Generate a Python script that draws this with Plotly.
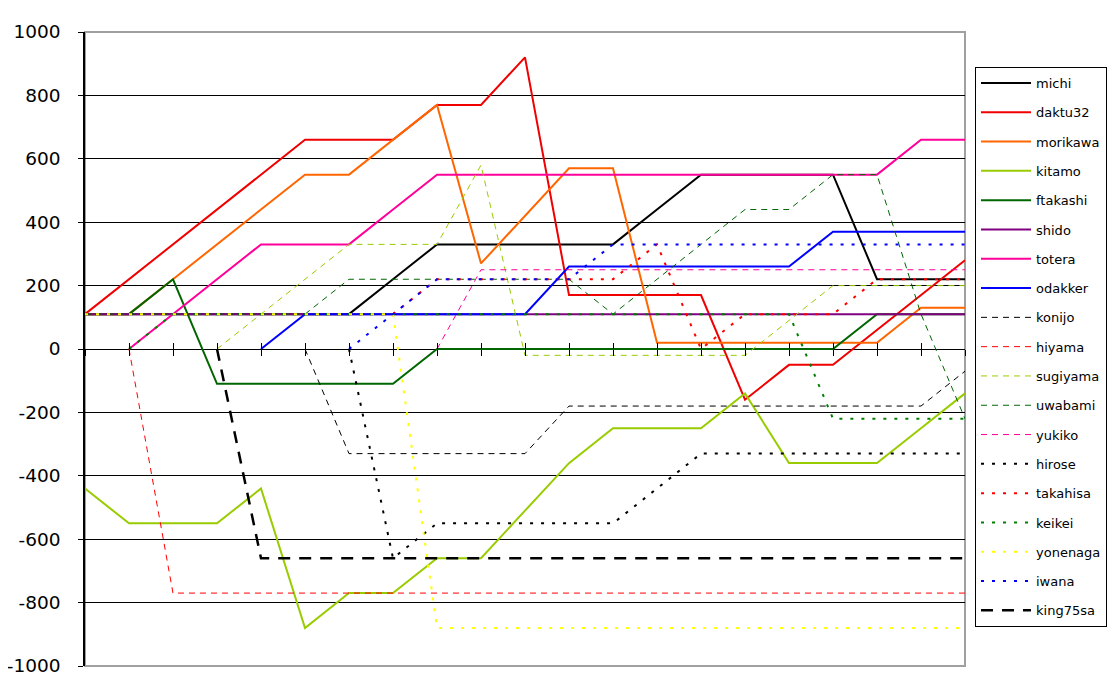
import plotly.graph_objects as go

# ---- data ----
categories = list(range(21))

michi    = [110,110,110,110,110,110,110,220,330,330,330,330,330,440,550,550,550,550,220,220,220]
daktu32  = [110,220,330,440,550,660,660,660,770,770,920,170,170,170,170,-160,-50,-50,60,170,280]
morikawa = [110,110,220,330,440,550,550,660,770,270,420,570,570,20,20,20,20,20,20,130,130]
kitamo   = [-440,-550,-550,-550,-440,-880,-770,-770,-660,-660,-510,-360,-250,-250,-250,-140,-360,-360,-360,-250,-140]
ftakashi = [110,110,220,-110,-110,-110,-110,-110,0,0,0,0,0,0,0,0,0,0,110,110,110]
shido    = [110,110,110,110,110,110,110,110,110,110,110,110,110,110,110,110,110,110,110,110,110]
totera   = [None,0,110,220,330,330,330,440,550,550,550,550,550,550,550,550,550,550,550,660,660]
odakker  = [None,None,None,None,0,110,110,110,110,110,110,260,260,260,260,260,260,370,370,370,370]
konijo   = [None,None,None,None,None,0,-330,-330,-330,-330,-330,-180,-180,-180,-180,-180,-180,-180,-180,-180,-70]
hiyama   = [None,0,-770,-770,-770,-770,-770,-770,-770,-770,-770,-770,-770,-770,-770,-770,-770,-770,-770,-770,-770]
sugiyama = [None,None,None,0,110,220,330,330,330,580,-20,-20,-20,-20,-20,-20,90,200,200,200,200]
uwabami  = [110,110,110,110,110,110,220,220,220,220,220,220,110,220,330,440,440,550,550,110,-220]
yukiko   = [None,None,None,None,None,None,None,None,0,250,250,250,250,250,250,250,250,250,250,250,250]
hirose   = [None,None,None,None,None,None,0,-660,-550,-550,-550,-550,-550,-440,-330,-330,-330,-330,-330,-330,-330]
takahisa = [None,None,None,None,None,None,None,110,220,220,220,220,220,330,0,110,110,110,220,220,220]
keikei   = [None,0,110,110,110,110,110,110,110,110,110,110,110,110,110,110,110,-220,-220,-220,-220]
yonenaga = [110,110,110,110,110,110,110,110,-880,-880,-880,-880,-880,-880,-880,-880,-880,-880,-880,-880,-880]
iwana    = [None,None,None,None,None,None,0,110,220,220,220,220,330,330,330,330,330,330,330,330,330]
king75sa = [None,None,None,0,-660,-660,-660,-660,-660,-660,-660,-660,-660,-660,-660,-660,-660,-660,-660,-660,-660]

y_tick_vals = [1000, 800, 600, 400, 200, 0, -200, -400, -600, -800, -1000]
y_tick_text = ["1000", "800", "600", "400", "200", "0", "-200", "-400", "-600", "-800", "-1000"]

# ---- styles ----
SOLID = dict(width=2, dash="solid")
THIN_DASH = dict(width=1, dash="6px,5px")
DOT = dict(width=2, dash="3px,8px")
LONG_DASH = dict(width=2.5, dash="12px,9px")

series = [
    ("michi", michi, "#000000", SOLID),
    ("daktu32", daktu32, "#F00000", SOLID),
    ("morikawa", morikawa, "#FF6600", SOLID),
    ("kitamo", kitamo, "#99CC00", SOLID),
    ("ftakashi", ftakashi, "#006600", SOLID),
    ("shido", shido, "#800080", SOLID),
    ("totera", totera, "#FF0099", SOLID),
    ("odakker", odakker, "#0000FF", SOLID),
    ("konijo", konijo, "#000000", THIN_DASH),
    ("hiyama", hiyama, "#FF0000", THIN_DASH),
    ("sugiyama", sugiyama, "#99CC00", THIN_DASH),
    ("uwabami", uwabami, "#006600", THIN_DASH),
    ("yukiko", yukiko, "#FF0099", THIN_DASH),
    ("hirose", hirose, "#000000", DOT),
    ("takahisa", takahisa, "#FF0000", DOT),
    ("keikei", keikei, "#008000", DOT),
    ("yonenaga", yonenaga, "#FFFF00", DOT),
    ("iwana", iwana, "#0000FF", DOT),
    ("king75sa", king75sa, "#000000", LONG_DASH),
]

fig = go.Figure()
for name, vals, color, st in series:
    fig.add_trace(go.Scatter(
        x=categories, y=vals, name=name, mode="lines",
        line=dict(color=color, width=st["width"], dash=st["dash"]),
        legendgroup=name, connectgaps=False,
    ))

# helper trace so the second (tick) x axis is drawn
fig.add_trace(go.Scatter(x=categories, y=[None]*len(categories), xaxis="x2",
                         showlegend=False, hoverinfo="skip", mode="lines"))

FONT = "DejaVu Sans"

# page body has an 8px margin: shrink the figure by it
W, H = 1112, 692
L, T = 77, 24
PW, PH = 880, 634

fig.update_layout(
    width=W, height=H,
    margin=dict(l=L, r=W-L-PW, t=T, b=H-T-PH, autoexpand=False),
    paper_bgcolor="white", plot_bgcolor="white",
    font=dict(family=FONT, color="black"),
    showlegend=True,
    legend=dict(
        x=(975-85)/880, y=(666-67)/634, xanchor="left", yanchor="top",
        bordercolor="black", borderwidth=1, bgcolor="white",
        font=dict(family=FONT, size=13, color="black"),
        tracegroupgap=9.4, itemwidth=50,
    ),
    xaxis=dict(
        range=[0, 20], dtick=1, tick0=0, showgrid=False, zeroline=False,
        showticklabels=False, showline=False,
        ticks="outside", ticklen=6, tickwidth=1, tickcolor="black",
        anchor="free", position=0.5, automargin=False,
    ),
    xaxis2=dict(
        range=[0, 20], dtick=1, tick0=0, showgrid=False, zeroline=False,
        showticklabels=False, showline=False, overlaying="x",
        ticks="inside", ticklen=6, tickwidth=1, tickcolor="black",
        anchor="free", position=0.5, automargin=False,
    ),
    yaxis=dict(
        range=[-1000, 1000], tickvals=y_tick_vals, ticktext=y_tick_text,
        showgrid=True, gridcolor="black", gridwidth=1,
        zeroline=True, zerolinecolor="black", zerolinewidth=1,
        showline=True, linecolor="black", linewidth=1.5,
        ticks="outside", ticklen=5, tickcolor="black",
        tickfont=dict(family=FONT, size=18.5, color="black"),
        ticklabelstandoff=14, automargin=False,
    ),
    shapes=[dict(type="rect", xref="paper", yref="paper", x0=0, x1=1, y0=0, y1=1,
                 line=dict(color="#A0A0A0", width=2), layer="below")],
)

fig.write_html("out.html")
